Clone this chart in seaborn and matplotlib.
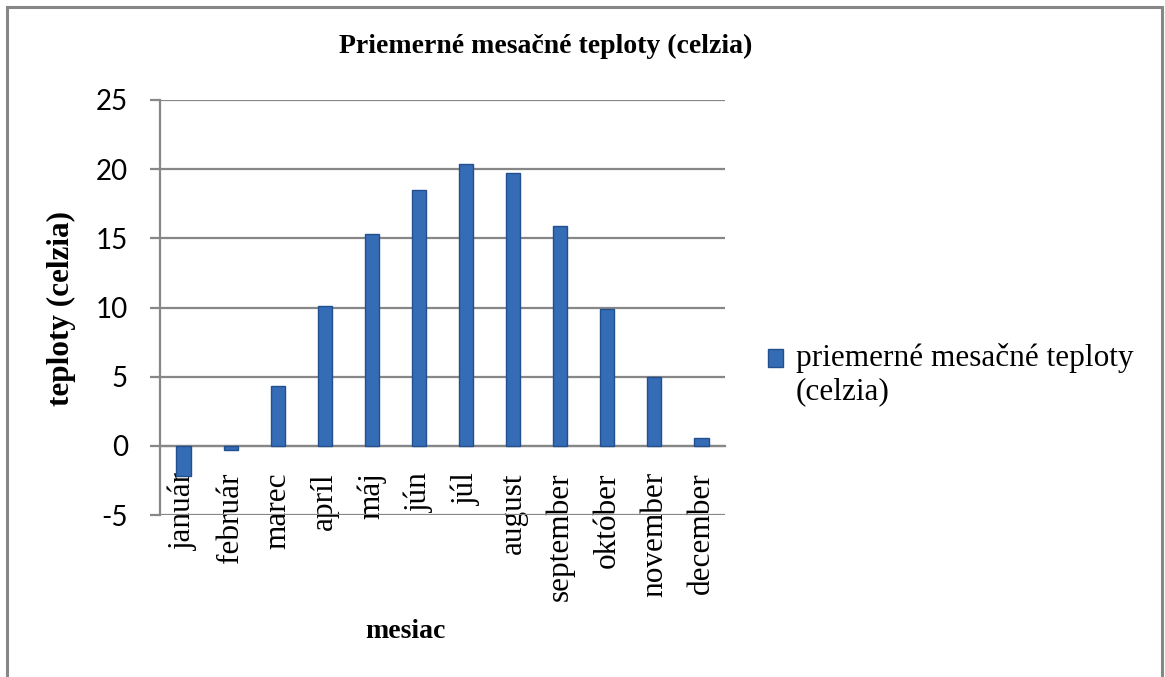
import matplotlib
matplotlib.use("Agg")
import matplotlib.pyplot as plt
import seaborn as sns
import pandas as pd
from matplotlib.patches import Rectangle, Patch

months = ["január", "február", "marec", "apríl", "máj", "jún", "júl",
          "august", "september", "október", "november", "december"]
temps = [-2.2, -0.3, 4.3, 10.1, 15.3, 18.5, 20.4, 19.7, 15.9, 9.9, 5.0, 0.6]
y_ticks = [-5, 0, 5, 10, 15, 20, 25]

title = "Priemerné mesačné teploty (celzia)"
x_label = "mesiac"
y_label = "teploty (celzia)"
legend_label = "priemerné mesačné teploty\n(celzia)"

sns.set_theme(style="white")
plt.rcParams["font.family"] = ["Liberation Serif", "DejaVu Serif"]
plt.rcParams["text.color"] = "black"
plt.rcParams["axes.labelcolor"] = "black"
plt.rcParams["xtick.color"] = "black"
plt.rcParams["ytick.color"] = "black"

W, H = 1165, 677
fig = plt.figure(figsize=(W / 100, H / 100), dpi=100)
fig.patch.set_facecolor("white")
ax = fig.add_axes([160 / W, 1 - 515 / H, (725 - 160) / W, (515 - 100) / H])

df = pd.DataFrame({"mesiac": months, "teplota": temps})
bar_color = "#356CB6"
edge_color = "#22508E"
sns.barplot(data=df, x="mesiac", y="teplota", color=bar_color, width=0.3,
            saturation=1, edgecolor=edge_color, linewidth=1.0, ax=ax, zorder=3)

ax.set_ylim(-5, 25)
ax.set_xlim(-0.5, len(months) - 0.5)
ax.set_yticks(y_ticks)
ax.set_yticklabels([str(v) for v in y_ticks], fontfamily="Lato", fontsize=20)
ax.yaxis.grid(True, color="#878787", linewidth=1.6, zorder=0)
ax.xaxis.grid(False)
for s in ["top", "right"]:
    ax.spines[s].set_visible(False)
ax.spines["left"].set_color("#878787")
ax.spines["left"].set_linewidth(1.6)
ax.spines["bottom"].set_position(("data", 0))
ax.spines["bottom"].set_color("#878787")
ax.spines["bottom"].set_linewidth(1.6)
ax.tick_params(axis="y", which="major", left=True, length=7, width=1.6,
               color="#878787", pad=16, labelcolor="black")
ax.tick_params(axis="x", which="major", bottom=False, length=0, pad=19,
               labelcolor="black")
ax.set_xticks(range(len(months)))
ax.set_xticklabels(months, rotation=90, fontsize=22.5, va="top", ha="center")
ax.set_xlabel("")
ax.set_ylabel("")
ax.set_facecolor("white")

fig.text(546 / W, 1 - 46 / H, title, ha="center", va="center",
         fontsize=20, fontweight="bold", color="black")
fig.text(405 / W, 1 - 632 / H, x_label, ha="center", va="center",
         fontsize=20, fontweight="bold", color="black")
fig.text(61 / W, 1 - 308 / H, y_label, ha="center", va="center",
         fontsize=22.5, fontweight="bold", rotation=90, color="black")

handle = Patch(facecolor=bar_color, edgecolor=edge_color)
leg = fig.legend([handle], [legend_label], loc="upper left",
                 bbox_to_anchor=(768 / W, 1 - 343 / H), frameon=False,
                 fontsize=22.5, handlelength=0.47, handleheight=0.47,
                 handletextpad=0.42, borderpad=0, borderaxespad=0)
for t in leg.get_texts():
    t.set_color("black")
h = leg.legend_handles[0]
h.set_y(h.get_y() + 12)

fig.patches.append(Rectangle((7 / W, -0.1), (1162 - 7) / W, 1.1 - 7 / H,
                             transform=fig.transFigure, fill=False,
                             edgecolor="#878787", linewidth=2.2))

fig.savefig("out.png", dpi=100)
